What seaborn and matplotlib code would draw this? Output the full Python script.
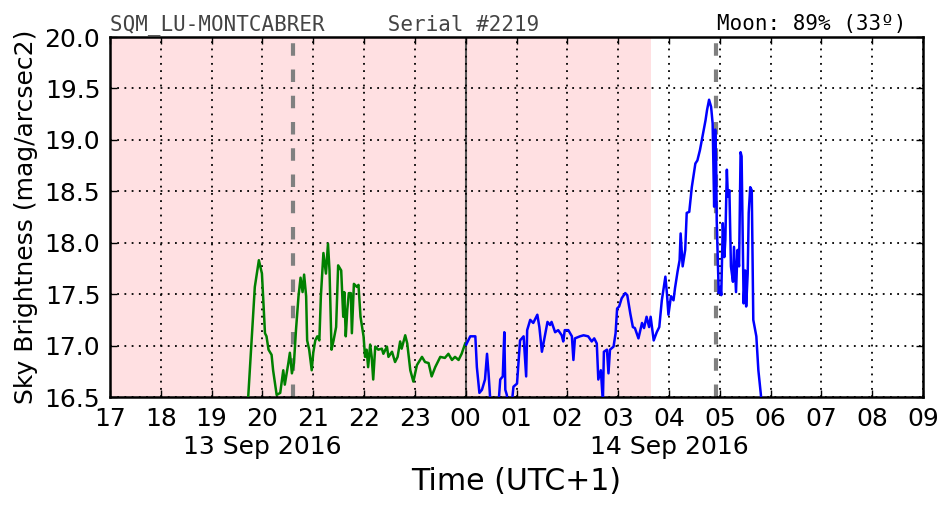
import matplotlib
matplotlib.use("Agg")
import matplotlib.pyplot as plt
import matplotlib.transforms as mtransforms
import seaborn as sns
import pandas as pd

# ---- data (hours since 00:00 of 13 Sep 2016, UTC+1) ----
green_t = [19.68, 19.72, 19.85, 19.93, 19.99, 20.05, 20.08, 20.12, 20.18, 20.21, 20.28, 20.35,
           20.41, 20.44, 20.51, 20.54, 20.58, 20.62, 20.66, 20.71, 20.75, 20.79, 20.82, 20.86,
           20.88, 20.92, 20.97, 21.00, 21.04, 21.08, 21.12, 21.15, 21.20, 21.25, 21.29, 21.32,
           21.36, 21.40, 21.45, 21.49, 21.55, 21.59, 21.61, 21.64, 21.67, 21.70, 21.74, 21.76,
           21.80, 21.86, 21.89, 21.93, 21.99, 22.02, 22.05, 22.08, 22.12, 22.15, 22.18, 22.22,
           22.28, 22.35, 22.38, 22.45, 22.48, 22.55, 22.61, 22.66, 22.71, 22.74, 22.81, 22.85,
           22.91, 22.97, 23.04, 23.14, 23.20, 23.27, 23.33, 23.40, 23.50, 23.59, 23.66, 23.73,
           23.79, 23.86, 23.92, 23.99]
green_v = [16.10, 16.50, 17.57, 17.83, 17.70, 17.12, 17.09, 16.96, 16.91, 16.76, 16.52, 16.54,
           16.76, 16.62, 16.83, 16.93, 16.73, 16.83, 17.15, 17.48, 17.66, 17.52, 17.69, 17.48,
           17.05, 16.96, 16.76, 16.93, 17.05, 17.09, 17.05, 17.48, 17.90, 17.70, 17.99, 17.73,
           16.96, 17.05, 17.18, 17.78, 17.73, 17.28, 17.52, 17.09, 17.35, 17.51, 17.51, 17.12,
           17.60, 17.57, 17.59, 17.28, 17.09, 16.89, 16.96, 16.79, 17.01, 16.89, 16.67, 16.99,
           16.96, 16.97, 16.92, 16.99, 16.89, 16.94, 16.84, 16.89, 17.04, 16.97, 17.10, 17.02,
           16.76, 16.65, 16.81, 16.89, 16.84, 16.83, 16.70, 16.79, 16.89, 16.88, 16.92, 16.86,
           16.89, 16.86, 16.92, 17.02]

blue_t = [24.01, 24.09, 24.19, 24.22, 24.27, 24.32, 24.38, 24.42, 24.45, 24.48, 24.55, 24.62,
          24.68, 24.73, 24.76, 24.78, 24.81, 24.86, 24.94, 25.01, 25.07, 25.14, 25.19, 25.21,
          25.27, 25.33, 25.41, 25.45, 25.50, 25.56, 25.61, 25.66, 25.69, 25.76, 25.82, 25.89,
          25.92, 25.95, 26.02, 26.09, 26.12, 26.15, 26.25, 26.32, 26.41, 26.48, 26.53, 26.58,
          26.61, 26.66, 26.70, 26.72, 26.78, 26.81, 26.84, 26.91, 26.95, 26.98, 27.02, 27.07,
          27.14, 27.18, 27.24, 27.29, 27.33, 27.40, 27.47, 27.51, 27.56, 27.61, 27.64, 27.70,
          27.76, 27.81, 27.86, 27.89, 27.93, 27.96, 27.99, 28.04, 28.09, 28.12, 28.17, 28.21,
          28.23, 28.27, 28.32, 28.35, 28.40, 28.45, 28.52, 28.56, 28.61, 28.67, 28.72, 28.75,
          28.79, 28.83, 28.86, 28.89, 28.91, 28.93, 28.94, 28.98, 29.01, 29.03, 29.06, 29.09,
          29.11, 29.14, 29.16, 29.19, 29.22, 29.26, 29.28, 29.32, 29.35, 29.38, 29.41, 29.43,
          29.47, 29.50, 29.52, 29.55, 29.57, 29.60, 29.63, 29.66, 29.72, 29.76, 29.81, 29.84]
blue_v = [17.01, 17.09, 17.09, 16.79, 16.54, 16.57, 16.67, 16.92, 16.73, 16.50, 16.20, 16.25,
          16.67, 16.70, 17.13, 16.57, 16.52, 16.20, 16.60, 16.63, 17.05, 17.09, 16.70, 17.15,
          17.25, 17.22, 17.30, 17.18, 16.94, 17.10, 17.23, 17.20, 17.23, 17.13, 17.15, 17.10,
          17.04, 17.15, 17.15, 17.09, 16.86, 17.07, 17.09, 17.10, 17.09, 17.04, 17.07, 17.02,
          16.67, 16.76, 16.45, 16.94, 16.96, 16.73, 16.96, 16.99, 17.12, 17.36, 17.38, 17.46,
          17.51, 17.49, 17.31, 17.18, 17.17, 17.07, 17.22, 17.17, 17.28, 17.18, 17.28, 17.05,
          17.13, 17.18, 17.44, 17.54, 17.67, 17.51, 17.30, 17.48, 17.44, 17.56, 17.72, 17.83,
          18.09, 17.77, 17.93, 18.29, 18.30, 18.54, 18.77, 18.80, 18.90, 19.06, 19.19, 19.29,
          19.39, 19.32, 19.16, 18.35, 19.10, 18.77, 18.22, 17.51, 17.57, 17.49, 18.19, 17.86,
          18.03, 18.71, 18.45, 18.51, 17.77, 17.62, 17.96, 17.52, 17.93, 17.77, 18.88, 18.84,
          17.41, 17.73, 17.38, 17.70, 18.29, 18.54, 18.51, 17.25, 17.09, 16.76, 16.52, 16.20]

hour_ticks = list(range(17, 34))
hour_labels = ["%02d" % (h % 24) for h in hour_ticks]
date_pos = [20, 28]
date_labels = ["13 Sep 2016", "14 Sep 2016"]
night_span = (17.0, 27.64)
event_lines = [20.60, 28.93]
midnight = 24.0
header_left = "SQM_LU-MONTCABRER     Serial #2219"
header_right = "Moon: 89% (33º)"

# ---- figure ----
plt.rcParams["font.family"] = ["DejaVu Sans"]
fig = plt.figure(figsize=(9.52, 5.12), dpi=100)
ax = fig.add_axes([110 / 952, 1 - 397 / 512, 813 / 952, 360 / 512])

ax.axvspan(*night_span, color="#ffe0e2", lw=0, zorder=0)
for xv in event_lines:
    ax.axvline(xv, color="#808080", lw=3, dashes=(3, 3.3), zorder=1)
ax.axvline(midnight, color="#555555", lw=1.5, zorder=1)

df_g = pd.DataFrame({"t": green_t, "v": green_v})
df_b = pd.DataFrame({"t": blue_t, "v": blue_v})
sns.lineplot(data=df_g, x="t", y="v", color="green", lw=1.8, ax=ax,
             estimator=None, sort=False, zorder=3)
sns.lineplot(data=df_b, x="t", y="v", color="blue", lw=1.8, ax=ax,
             estimator=None, sort=False, zorder=3)

ax.set_xlim(17, 33)
ax.set_ylim(16.5, 20.0)
ax.set_xticks(hour_ticks)
ax.set_xticklabels(hour_labels)
ax.set_yticks([16.5, 17.0, 17.5, 18.0, 18.5, 19.0, 19.5, 20.0])
ax.set_yticklabels(["%.1f" % v for v in ax.get_yticks()])
ax.tick_params(direction="in", top=True, right=True, length=5, width=1,
               labelsize=18, colors="black")
ax.tick_params(axis="x", pad=7)
ax.tick_params(axis="y", pad=7)
ax.grid(True, color="black", linestyle=(0, (1, 3)), lw=1.3)
for s in ax.spines.values():
    s.set_linewidth(1.8)
    s.set_color("black")

trans = mtransforms.blended_transform_factory(ax.transData, ax.transAxes)
for xp, lab in zip(date_pos, date_labels):
    ax.text(xp, -0.158, lab, transform=trans, ha="center", va="baseline", fontsize=18)

ax.set_xlabel("")
ax.set_ylabel("Sky Brightness (mag/arcsec2)", fontsize=18, labelpad=5)
fig.text((110 + 813 / 2) / 952, 1 - 490 / 512, "Time (UTC+1)", ha="center",
         va="baseline", fontsize=21.6)

fig.text(110.5 / 952, 1 - 30 / 512, header_left, family="DejaVu Sans Mono",
         fontsize=15, color="#444444", ha="left", va="baseline")
fig.text(906 / 952, 1 - 30 / 512, header_right, family="DejaVu Sans Mono",
         fontsize=15, color="black", ha="right", va="baseline")

fig.savefig("out.png", dpi=100)
